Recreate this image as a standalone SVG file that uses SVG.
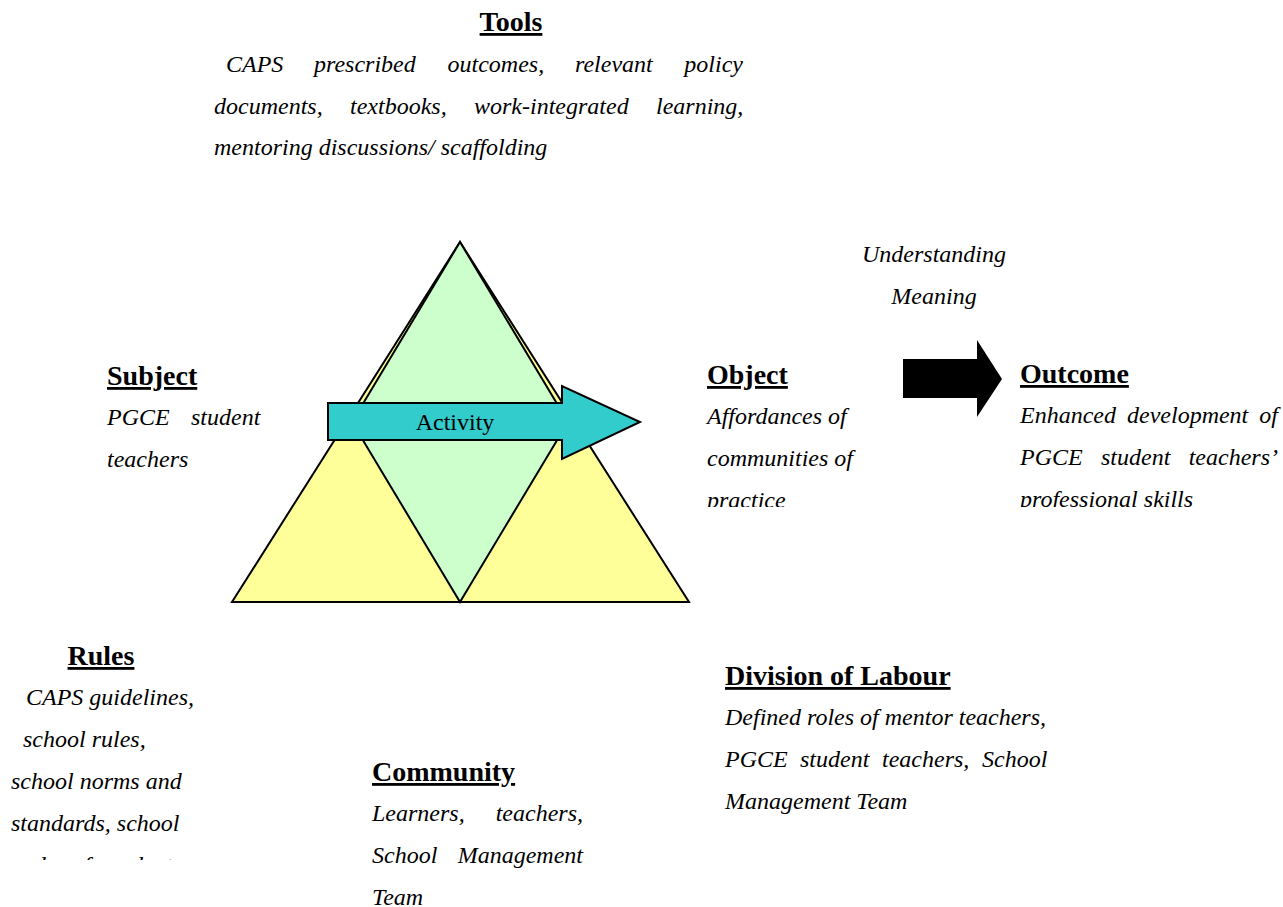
<svg xmlns="http://www.w3.org/2000/svg" width="1283" height="907" viewBox="0 0 1283 907">
<style>
text{font-family:"Liberation Serif","Times New Roman",serif;fill:#000}
.h{font-size:28px;font-weight:bold;text-decoration:underline}
.b{font-size:24px;font-style:italic}
.a{font-size:24px}
.shape{stroke:#000;stroke-width:2;stroke-linejoin:miter}
</style>
<defs>
<clipPath id="clipObj"><rect x="690" y="390" width="200" height="117"/></clipPath>
<clipPath id="clipOut"><rect x="1010" y="390" width="273" height="117"/></clipPath>
<clipPath id="clipRules"><rect x="0" y="670" width="230" height="190"/></clipPath>
</defs>
<rect width="1283" height="907" fill="#fff"/>

<g id="triangle">
<polygon class="shape" points="460,242 232,602 689,602" fill="#FFFF99"/>
<polygon class="shape" points="460,242 352,422 460,602 568,422" fill="#CCFFCC"/>
</g>

<g id="connectors">
<g id="activity-arrow">
<polygon class="shape" points="328,403 562,403 562,386 640,422 562,459 562,440 328,440" fill="#33CCCC"/>
<text class="a" x="455" y="430" text-anchor="middle">Activity</text>
</g>
<polygon id="outcome-arrow" points="903,359 977,359 977,340 1002,379 977,417 977,398 903,398" fill="#000"/>
</g>

<g id="tools">
<text class="h" x="511" y="31" text-anchor="middle">Tools</text>
<text class="b" y="72"><tspan x="226">CAPS</tspan><tspan x="314">prescribed</tspan><tspan x="447.5">outcomes,</tspan><tspan x="575">relevant</tspan><tspan x="684.3">policy</tspan></text>
<text class="b" y="114"><tspan x="214">documents,</tspan><tspan x="350">textbooks,</tspan><tspan x="474">work-integrated</tspan><tspan x="656">learning,</tspan></text>
<text class="b" x="214" y="155">mentoring discussions/ scaffolding</text>
</g>

<g id="meaning">
<text class="b" x="934" y="262" text-anchor="middle">Understanding</text>
<text class="b" x="934" y="304" text-anchor="middle">Meaning</text>
</g>

<g id="subject">
<text class="h" x="107" y="385">Subject</text>
<text class="b" y="425"><tspan x="107">PGCE</tspan><tspan x="191">student</tspan></text>
<text class="b" x="107" y="467">teachers</text>
</g>

<g id="object">
<text class="h" x="707" y="384">Object</text>
<g clip-path="url(#clipObj)">
<text class="b" x="707" y="424">Affordances of</text>
<text class="b" x="707" y="466">communities of</text>
<text class="b" x="707" y="508">practice</text>
</g>
</g>

<g id="outcome">
<text class="h" x="1020" y="383">Outcome</text>
<g clip-path="url(#clipOut)">
<text class="b" y="423"><tspan x="1020">Enhanced</tspan><tspan x="1127">development</tspan><tspan x="1259.3">of</tspan></text>
<text class="b" y="465"><tspan x="1020">PGCE</tspan><tspan x="1101">student</tspan><tspan x="1188.7">teachers’</tspan></text>
<text class="b" x="1020" y="507">professional skills</text>
</g>
</g>

<g id="rules">
<text class="h" x="101" y="665" text-anchor="middle">Rules</text>
<g clip-path="url(#clipRules)">
<text class="b" x="26" y="705">CAPS guidelines,</text>
<text class="b" x="23" y="747">school rules,</text>
<text class="b" x="11" y="789">school norms and</text>
<text class="b" x="11" y="831">standards, school</text>
<text class="b" x="11" y="873">codes of conduct</text>
</g>
</g>

<g id="community">
<text class="h" x="372" y="781">Community</text>
<text class="b" y="821"><tspan x="372">Learners,</tspan><tspan x="495.7">teachers,</tspan></text>
<text class="b" y="863"><tspan x="372">School</tspan><tspan x="457.7">Management</tspan></text>
<text class="b" x="372" y="905">Team</text>
</g>

<g id="division">
<text class="h" x="725" y="685">Division of Labour</text>
<text class="b" x="725" y="725">Defined roles of mentor teachers,</text>
<text class="b" y="767"><tspan x="725">PGCE</tspan><tspan x="800">student</tspan><tspan x="882">teachers,</tspan><tspan x="982">School</tspan></text>
<text class="b" x="725" y="809">Management Team</text>
</g>
</svg>
